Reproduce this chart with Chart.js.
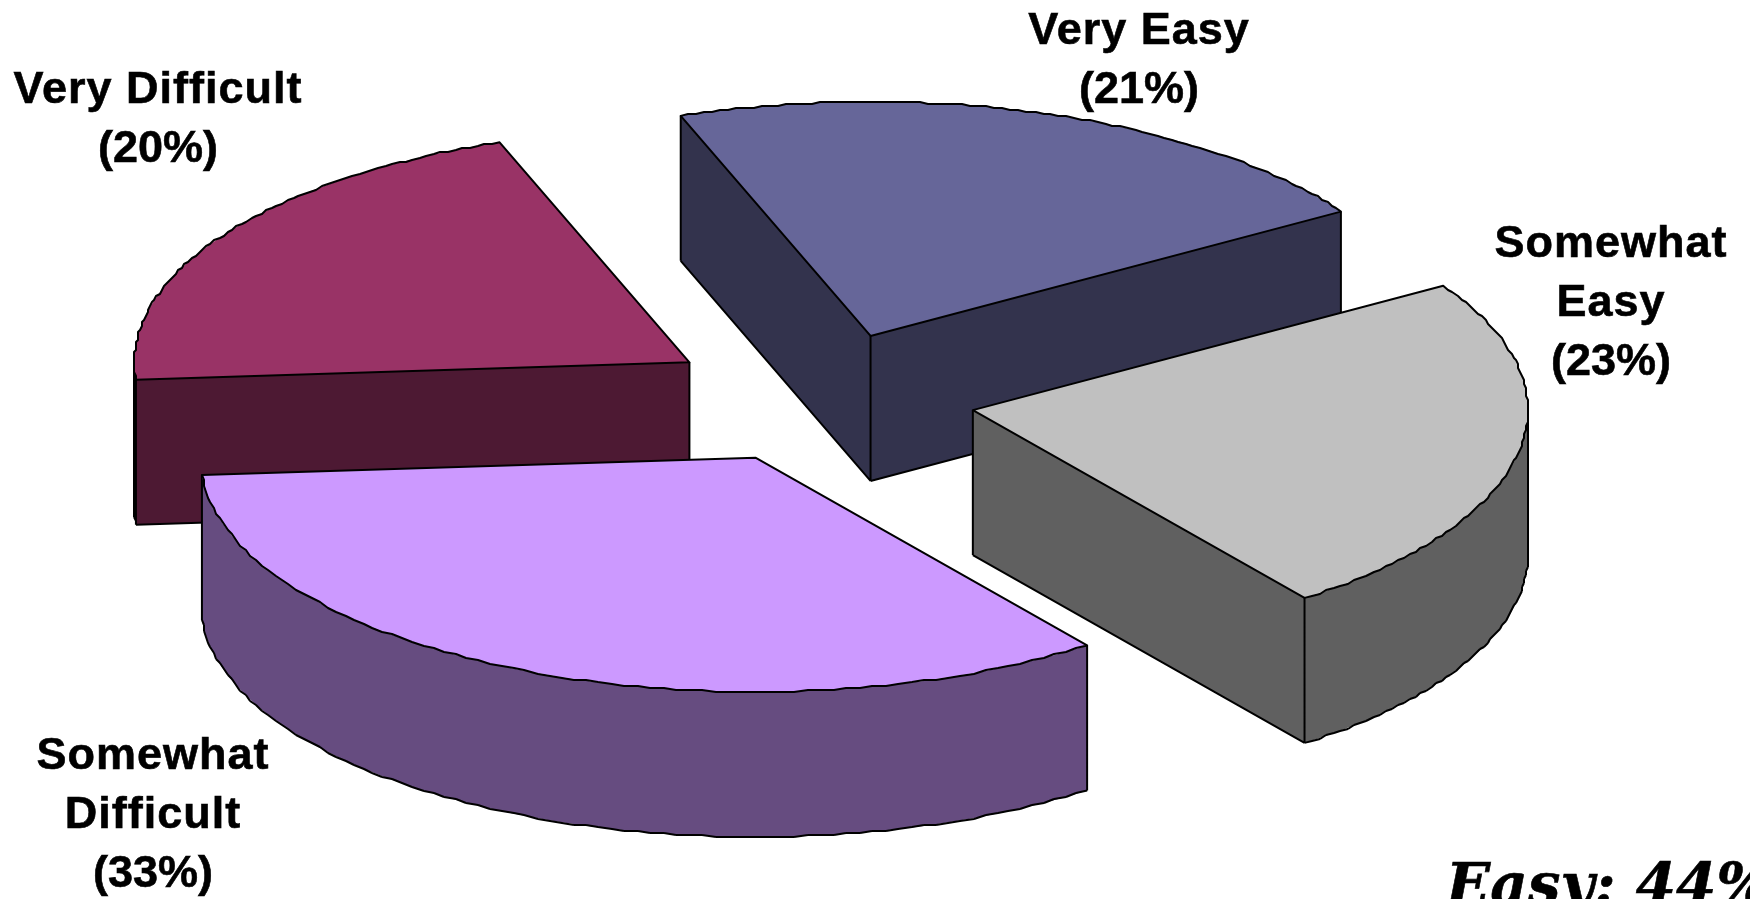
<!DOCTYPE html>
<html>
<head>
<meta charset="utf-8">
<title>Difficulty</title>
<script src="https://cdn.jsdelivr.net/npm/chart.js@4"></script>
<style>
  html, body { margin: 0; padding: 0; background: #fff; overflow: hidden; }
  canvas { display: block; }
</style>
</head>
<body>
<canvas id="myChart" width="1750" height="899"></canvas>
<script>
// chart data
const categories = ["Very Easy", "Somewhat Easy", "Somewhat Difficult", "Very Difficult"];
const percents = [21, 23, 33, 20];
const labelLines = [["Very Easy"], ["Somewhat", "Easy"], ["Somewhat", "Difficult"], ["Very Difficult"]];
const noteText = "Easy: 44%";

// colours
const topColors = ["#666699", "#C0C0C0", "#CC99FF", "#993366"];
const sideColors = ["#33334D", "#606060", "#664C80", "#4D1933"];

// 3d look of the pie
const squash = 0.422;
const depth = 145;
const explode = 155.5;
const edgeWidth = 2;
const roughGrid = 2; // the original outline is stepped, not smooth

// where the label blocks sit (center x, first baseline)
const labelSpots = [[1139, 44], [1611, 257], [153, 769], [158, 103]];
const lineGap = 59;

const pie3d = {
  id: "pie3d",
  beforeDatasetsDraw(chart) {
    const ctx = chart.ctx;
    const arcs = chart.getDatasetMeta(0).data;
    const slices = arcs.map((arc, i) => sliceShape(arc, i));
    // back to front
    slices.sort((a, b) => a.pts[0].y - b.pts[0].y);
    slices.forEach((s) => {
      drawSide(ctx, s);
      ctx.save();
      ctx.translate(s.dx, s.pivot + s.dy * squash);
      ctx.scale(1, squash);
      ctx.translate(0, -s.pivot);
      s.arc.draw(ctx, chart.chartArea);
      ctx.restore();
      outline(ctx, s.pts);
    });
    return false; // slices are painted here, in our own order
  },
  afterDraw(chart) {
    const ctx = chart.ctx;
    ctx.save();
    ctx.fillStyle = "#000";
    ctx.strokeStyle = "#000";
    ctx.lineWidth = 0.6;
    ctx.textAlign = "center";
    ctx.textBaseline = "alphabetic";
    ctx.font = "bold 45px 'Liberation Sans'";
    const put = (t, x, y) => {
      ctx.fillText(t, x, y);
      ctx.strokeText(t, x, y);
    };
    categories.forEach((c, i) => {
      ctx.letterSpacing = "1px";
      labelLines[i].forEach((t, n) => {
        put(t, labelSpots[i][0], labelSpots[i][1] + n * lineGap);
      });
      ctx.letterSpacing = "0px";
      put(
        "(" + percents[i] + "%)",
        labelSpots[i][0],
        labelSpots[i][1] + labelLines[i].length * lineGap
      );
    });
    ctx.textAlign = "left";
    ctx.font = "italic bold 58px 'DejaVu Serif'";
    put(noteText, 1446, 904);
    ctx.restore();
  },
};

function sliceShape(arc, i) {
  const { x, y, startAngle, endAngle, outerRadius } = arc.getProps(
    ["x", "y", "startAngle", "endAngle", "outerRadius"], true
  );
  const mid = (startAngle + endAngle) / 2;
  const dx = Math.cos(mid) * explode;
  const dy = Math.sin(mid) * explode;
  const pts = [{ x: x + dx, y: y + dy * squash }];
  const steps = 90;
  for (let n = 0; n <= steps; n++) {
    const a = startAngle + ((endAngle - startAngle) * n) / steps;
    pts.push({
      x: x + dx + Math.cos(a) * outerRadius,
      y: y + (dy + Math.sin(a) * outerRadius) * squash,
    });
  }
  return { arc, pts, dx, dy, pivot: y, side: sideColors[i] };
}

// stepped copy of a point, corners of the slice stay exact
function rough(pts, k) {
  if (k < 2 || k >= pts.length - 1) return pts[k];
  return {
    x: Math.round(pts[k].x / roughGrid) * roughGrid,
    y: Math.round(pts[k].y / roughGrid) * roughGrid,
  };
}

function drawSide(ctx, s) {
  const pts = s.pts;
  const n = pts.length;
  const facing = (k) => pts[(k + 1) % n].x < pts[k].x;
  ctx.save();
  ctx.lineJoin = "round";
  ctx.fillStyle = s.side;
  // one filled shape for every run of visible edges
  for (let k = 0; k < n; k++) {
    if (!facing(k) || facing((k - 1 + n) % n)) continue;
    const run = [pts[k]];
    for (let j = k; facing(j % n) && run.length <= n; j++) run.push(pts[(j + 1) % n]);
    ctx.beginPath();
    run.forEach((p, m) => (m ? ctx.lineTo(p.x, p.y) : ctx.moveTo(p.x, p.y)));
    run.slice().reverse().forEach((p) => ctx.lineTo(p.x, p.y + depth));
    ctx.closePath();
    ctx.fill();
  }
  ctx.strokeStyle = "#000";
  ctx.lineWidth = edgeWidth;
  ctx.beginPath();
  for (let k = 0; k < n; k++) {
    const prev = facing((k - 1 + n) % n);
    const next = facing(k);
    const corner = k === 0 || k === 1 || k === n - 1;
    if (next) {
      const p = rough(pts, k);
      const q = rough(pts, (k + 1) % n);
      ctx.moveTo(p.x, p.y + depth);
      ctx.lineTo(q.x, q.y + depth);
    }
    if ((prev || next) && (corner || prev !== next)) {
      const p = rough(pts, k);
      ctx.moveTo(p.x, p.y);
      ctx.lineTo(p.x, p.y + depth);
    }
  }
  ctx.stroke();
  ctx.restore();
}

function outline(ctx, pts) {
  ctx.save();
  ctx.strokeStyle = "#000";
  ctx.lineWidth = edgeWidth;
  ctx.lineJoin = "round";
  ctx.beginPath();
  pts.forEach((p, k) => {
    const r = rough(pts, k);
    k ? ctx.lineTo(r.x, r.y) : ctx.moveTo(r.x, r.y);
  });
  ctx.closePath();
  ctx.stroke();
  ctx.restore();
}

new Chart(document.getElementById("myChart"), {
  type: "pie",
  data: {
    labels: categories,
    datasets: [
      {
        data: percents,
        backgroundColor: topColors,
        borderWidth: 0,
        clip: false,
      },
    ],
  },
  options: {
    responsive: false,
    animation: false,
    rotation: -20,
    radius: 555,
    layout: { padding: { right: 110, bottom: 103 } },
    events: [],
    plugins: {
      legend: { display: false },
      tooltip: { enabled: false },
    },
  },
  plugins: [pie3d],
});
</script>
</body>
</html>
